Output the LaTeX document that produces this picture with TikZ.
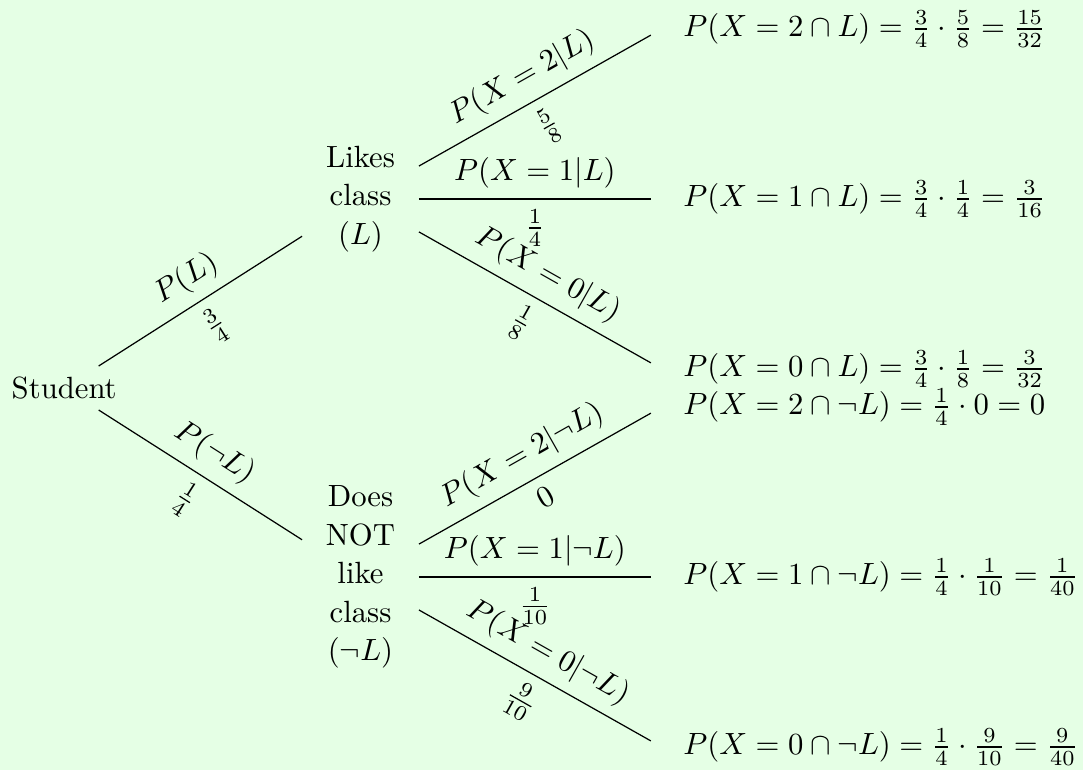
\documentclass[tikz,border=0pt]{standalone}
\usetikzlibrary{positioning}
\begin{document}
\begin{tikzpicture}[
  bag/.style={text width=3.1em, align=center, font=\fontsize{10pt}{12.5pt}\selectfont},
  up/.style={midway, above, sloped},
  down/.style={midway, below, sloped}]
  \fill[green!10] (-0.735,-4.373) rectangle (11.663,4.442);
  \useasboundingbox (-0.735,-4.373) rectangle (11.663,4.442);
  \node (root) at (0,0) {Student};
  \node[bag] (like) at (3.392,2.164) {Likes class ($L$)};
  \node[bag] (notlike) at (3.392,-2.164) {Does NOT like class ($\neg L$)};
  % leaves
  \foreach \name/\y in {l2/4.110, l1/2.164, l0/0.218, n2/-0.218, n1/-2.164, n0/-4.110}
    \node (\name) at (6.84,\y) {};
  \node[right=0pt of l2] (tl2) {$P(X=2\cap L)=\frac{3}{4}\cdot\frac{5}{8}=\frac{15}{32}$};
  \node[right=0pt of l1] (tl1) {$P(X=1\cap L)=\frac{3}{4}\cdot\frac{1}{4}=\frac{3}{16}$};
  \node[right=0pt of l0] (tl0) {$P(X=0\cap L)=\frac{3}{4}\cdot\frac{1}{8}=\frac{3}{32}$};
  \node[right=0pt of n2] (tn2) {$P(X=2\cap\neg L)=\frac{1}{4}\cdot 0=0$};
  \node[right=0pt of n1] (tn1) {$P(X=1\cap\neg L)=\frac{1}{4}\cdot\frac{1}{10}=\frac{1}{40}$};
  \node[right=0pt of n0] (tn0) {$P(X=0\cap\neg L)=\frac{1}{4}\cdot\frac{9}{10}=\frac{9}{40}$};
  % branches
  \draw (root) -- (like) node[up] {$P(L)$} node[down] {$\frac{3}{4}$};
  \draw (root) -- (notlike) node[up] {$P(\neg L)$} node[down] {$\frac{1}{4}$};
  \draw (like) -- (l2) node[up] {$P(X=2|L)$} node[down] {$\frac{5}{8}$};
  \draw (like) -- (l1) node[up] {$P(X=1|L)$} node[down] {$\frac{1}{4}$};
  \draw (like) -- (l0) node[up] {$P(X=0|L)$} node[down] {$\frac{1}{8}$};
  \draw (notlike) -- (n2) node[up] {$P(X=2|\neg L)$} node[down] {$0$};
  \draw (notlike) -- (n1) node[up] {$P(X=1|\neg L)$} node[down] {$\frac{1}{10}$};
  \draw (notlike) -- (n0) node[up] {$P(X=0|\neg L)$} node[down] {$\frac{9}{10}$};
\end{tikzpicture}
\end{document}
